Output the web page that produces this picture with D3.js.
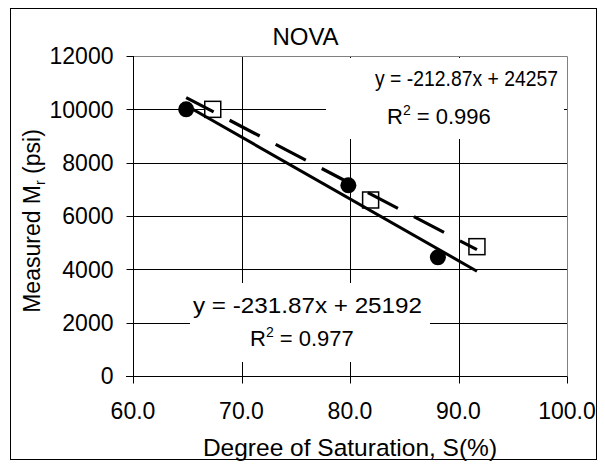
<!DOCTYPE html>
<html>
<head>
<meta charset="utf-8">
<script src="https://cdn.jsdelivr.net/npm/d3@7/dist/d3.min.js"></script>
<style>
  html, body { margin: 0; padding: 0; background: #fff; }
  svg { display: block; font-family: "Liberation Sans", Arial, sans-serif; }
</style>
</head>
<body>
<svg id="chart" width="605" height="467"></svg>
<script>
// Resilient modulus vs. degree of saturation, NOVA soil
const satCircle = [64.9, 79.85, 88.1];
const mrCircle = [10000, 7150, 4450];
const satSquare = [67.35, 81.9, 91.7];
const mrSquare = [10000, 6600, 4850];

// Linear trendlines: [slope, intercept, R^2]
const fitCircle = [-231.87, 25192, 0.977];
const fitSquare = [-212.87, 24257, 0.996];

const xTicks = [60, 70, 80, 90, 100];
const yTicks = [0, 2000, 4000, 6000, 8000, 10000, 12000];

const svg = d3.select("#chart");
const L = 133, R = 567, T = 56, B = 376;

const x = d3.scaleLinear().domain([60, 100]).range([L, R]);
const y = d3.scaleLinear().domain([0, 12000]).range([B, T]);
const px = v => Math.round(x(v)) + 0.5;
const py = v => Math.round(y(v)) + 0.5;

// outer frame
svg.append("rect").attr("x", 10.5).attr("y", 8.5).attr("width", 586).attr("height", 451)
  .attr("fill", "#fff").attr("stroke", "#000").attr("stroke-width", 1);

// title
svg.append("text").attr("x", 305.5).attr("y", 44.5).attr("text-anchor", "middle")
  .attr("font-size", 24).text("NOVA");

// gridlines
const g = svg.append("g");
g.selectAll("line.hg").data(yTicks.filter(d => d > 0 && d < 12000)).join("line")
  .attr("x1", L).attr("x2", R).attr("y1", py).attr("y2", py)
  .attr("stroke", "#000").attr("stroke-width", 1);
g.selectAll("line.vg").data(xTicks.filter(d => d > 60 && d < 100)).join("line")
  .attr("y1", T).attr("y2", B).attr("x1", px).attr("x2", px)
  .attr("stroke", "#000").attr("stroke-width", 1);

// plot area border (top, right)
svg.append("path")
  .attr("d", `M${L},${py(12000)}H${px(100)}V${B}`)
  .attr("fill", "none").attr("stroke", "#808080").attr("stroke-width", 1);

// y axis
const yAxis = svg.append("g").attr("transform", `translate(${px(60)},0)`);
yAxis.append("line").attr("x1", 0).attr("x2", 0).attr("y1", T).attr("y2", py(0))
  .attr("stroke", "#000");
yAxis.selectAll("line.t").data(yTicks).join("line")
  .attr("x1", -7).attr("x2", 0).attr("y1", py).attr("y2", py).attr("stroke", "#000");
yAxis.selectAll("text").data(yTicks).join("text")
  .attr("x", -20).attr("y", d => y(d)).attr("dy", "0.36em")
  .attr("text-anchor", "end").attr("font-size", 23).text(d => d);

// x axis
const xAxis = svg.append("g").attr("transform", `translate(0,${py(0)})`);
xAxis.append("line").attr("x1", L - 7).attr("x2", px(100)).attr("y1", 0).attr("y2", 0)
  .attr("stroke", "#000");
xAxis.selectAll("line.t").data(xTicks).join("line")
  .attr("x1", px).attr("x2", px).attr("y1", 0).attr("y2", 7).attr("stroke", "#000");
xAxis.selectAll("text").data(xTicks).join("text")
  .attr("x", d => x(d)).attr("y", 42).attr("text-anchor", "middle")
  .attr("font-size", 23).text(d => d.toFixed(1));

// axis titles
svg.append("text").attr("x", (L + R) / 2).attr("y", 456)
  .attr("text-anchor", "middle").attr("font-size", 24.5)
  .text("Degree of Saturation, S(%)");

const yt = svg.append("text").attr("transform", "translate(40,221) rotate(-90)")
  .attr("text-anchor", "middle").attr("font-size", 23);
yt.append("tspan").text("Measured M");
yt.append("tspan").attr("font-size", 14).attr("dy", 5).text("r");
yt.append("tspan").attr("dy", -5).text(" (psi)");

// trendline label boxes
function eqLabel(fit, box, l1, l2) {
  svg.append("rect").attr("x", box[0]).attr("y", box[1]).attr("width", box[2]).attr("height", box[3])
    .attr("fill", "#fff");
  const s = fit[0].toFixed(2), b = fit[1];
  svg.append("text").attr("x", l1[0]).attr("y", l1[1]).attr("font-size", 22)
    .attr("textLength", l1[2]).attr("lengthAdjust", "spacingAndGlyphs")
    .text(`y = ${s}x + ${b}`);
  const t = svg.append("text").attr("x", l2[0]).attr("y", l2[1]).attr("font-size", 22);
  t.append("tspan").text("R");
  t.append("tspan").attr("font-size", 14).attr("dy", -9).text("2");
  t.append("tspan").attr("dy", 9).text(" = " + fit[2].toFixed(3));
}
eqLabel(fitSquare, [326, 58, 238, 81], [375, 86, 183], [387, 124]);
eqLabel(fitCircle, [190, 283, 240, 79], [193, 313, 229], [250, 346]);

// markers
svg.selectAll("circle.c").data(satCircle).join("circle")
  .attr("cx", d => x(d)).attr("cy", (d, i) => y(mrCircle[i])).attr("r", 8)
  .attr("fill", "#000");
svg.selectAll("rect.s").data(satSquare).join("rect")
  .attr("x", d => x(d) - 8).attr("y", (d, i) => y(mrSquare[i]) - 8)
  .attr("width", 16).attr("height", 16)
  .attr("fill", "#fff").attr("stroke", "#000").attr("stroke-width", 1.5);

// trendlines across the full range of saturation
const xr = d3.extent(satCircle.concat(satSquare));
const line = d3.line().x(d => x(d[0])).y(d => y(d[1]));
const pts = f => xr.map(v => [v, f[0] * v + f[1]]);
svg.append("path").attr("d", line(pts(fitCircle)))
  .attr("fill", "none").attr("stroke", "#000").attr("stroke-width", 3);
svg.append("path").attr("d", line(pts(fitSquare)))
  .attr("fill", "none").attr("stroke", "#000").attr("stroke-width", 3.2)
  .attr("stroke-dasharray", "34,18").attr("stroke-dashoffset", 3);
</script>
</body>
</html>
